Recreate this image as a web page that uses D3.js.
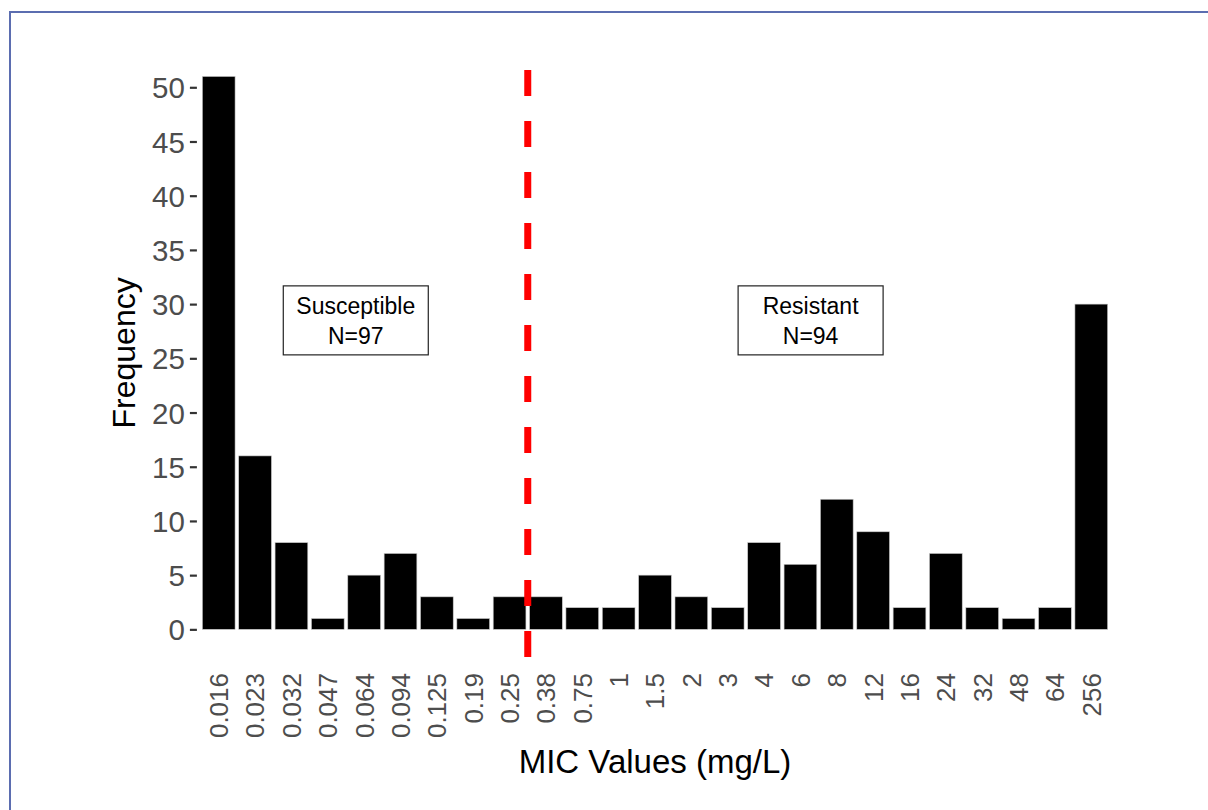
<!DOCTYPE html>
<html>
<head>
<meta charset="utf-8">
<script src="https://cdn.jsdelivr.net/npm/d3@7"></script>
<style>
  html, body { margin: 0; padding: 0; background: #fff; }
  svg { display: block; }
  text { font-family: "Liberation Sans", Arial, Helvetica, sans-serif; }
</style>
</head>
<body>
<svg id="chart" width="1208" height="810"></svg>
<script>
// ---- data ----
const categories = ["0.016","0.023","0.032","0.047","0.064","0.094","0.125","0.19","0.25",
  "0.38","0.75","1","1.5","2","3","4","6","8","12","16","24","32","48","64","256"];
const frequency = [51,16,8,1,5,7,3,1,3, 3,2,2,5,3,2,8,6,12,9,2,7,2,1,2,30];
const yTicks = [0,5,10,15,20,25,30,35,40,45,50];
const breakpointBetween = ["0.25","0.38"];
const annotations = [
  { lines: ["Susceptible","N=97"], x: 4.77, y: 28.5 },
  { lines: ["Resistant","N=94"], x: 17.28, y: 28.5 }
];

// ---- layout ----
const svg = d3.select("#chart");
const panel = { left: 196.9, right: 1113.1, top: 48.8, bottom: 657.0 };

// page border
svg.append("rect")
  .attr("x", 10).attr("y", 12).attr("width", 2000).attr("height", 2000)
  .attr("fill", "none").attr("stroke", "#5b6db0").attr("stroke-width", 2);

const x = d3.scaleBand()
  .domain(categories)
  .range([panel.left, panel.right])
  .paddingInner(0.1)
  .paddingOuter(0.15);

// continuous ggplot-like coordinate (1 = first category)
const xPos = d3.scaleLinear()
  .domain([0.4, categories.length + 0.6])
  .range([panel.left, panel.right]);

const ymax = d3.max(frequency);
const y = d3.scaleLinear()
  .domain([-0.05 * ymax, ymax * 1.05])
  .range([panel.bottom, panel.top]);

// bars
svg.append("g").selectAll("rect")
  .data(categories)
  .join("rect")
  .attr("x", d => x(d))
  .attr("width", x.bandwidth())
  .attr("y", (d, i) => y(frequency[i]))
  .attr("height", (d, i) => y(0) - y(frequency[i]))
  .attr("fill", "#000")
  .attr("stroke", "#c8c8c8")
  .attr("stroke-width", 0.6);

// y axis
const yAxis = d3.axisLeft(y).tickValues(yTicks).tickSize(7).tickPadding(5);
const gy = svg.append("g")
  .attr("transform", `translate(${panel.left},0)`)
  .call(yAxis);
gy.select(".domain").remove();
gy.selectAll(".tick line").attr("stroke", "#333").attr("stroke-width", 2.2);
gy.selectAll(".tick text")
  .attr("fill", "#4d4d4d")
  .style("font-size", "29.5px")
  .attr("dy", "0.36em");

// x axis labels (no ticks)
const gx = svg.append("g");
gx.selectAll("text")
  .data(categories)
  .join("text")
  .attr("transform", d => `translate(${x(d) + x.bandwidth() / 2},673) rotate(-90)`)
  .attr("text-anchor", "end")
  .attr("dy", "0.36em")
  .attr("fill", "#4d4d4d")
  .style("font-size", "26px")
  .text(d => d);

// breakpoint dashed line
const bx = (x(breakpointBetween[0]) + x.bandwidth() + x(breakpointBetween[1])) / 2;
svg.append("line")
  .attr("x1", bx).attr("x2", bx)
  .attr("y1", y.range()[0]).attr("y2", y.range()[1])
  .attr("stroke", "#ff0000")
  .attr("stroke-width", 7)
  .attr("stroke-dasharray", "26,25");

// annotation boxes
const boxW = 145, boxH = 69;
annotations.forEach(a => {
  const cx = xPos(a.x), cy = y(a.y);
  const g = svg.append("g");
  g.append("rect")
    .attr("x", cx - boxW / 2).attr("y", cy - boxH / 2)
    .attr("width", boxW).attr("height", boxH)
    .attr("fill", "#fff").attr("stroke", "#222").attr("stroke-width", 1.2);
  a.lines.forEach((t, i) => {
    g.append("text")
      .attr("x", cx)
      .attr("y", cy - 6.5 + i * 29.7)
      .attr("text-anchor", "middle")
      .attr("fill", "#000")
      .style("font-size", "23px")
      .text(t);
  });
});

// axis titles
svg.append("text")
  .attr("transform", `translate(135,${(panel.top + panel.bottom) / 2}) rotate(-90)`)
  .attr("text-anchor", "middle")
  .attr("fill", "#000")
  .style("font-size", "32px")
  .text("Frequency");

svg.append("text")
  .attr("x", 655)
  .attr("y", 773)
  .attr("text-anchor", "middle")
  .attr("fill", "#000")
  .style("font-size", "33px")
  .text("MIC Values (mg/L)");
</script>
</body>
</html>
